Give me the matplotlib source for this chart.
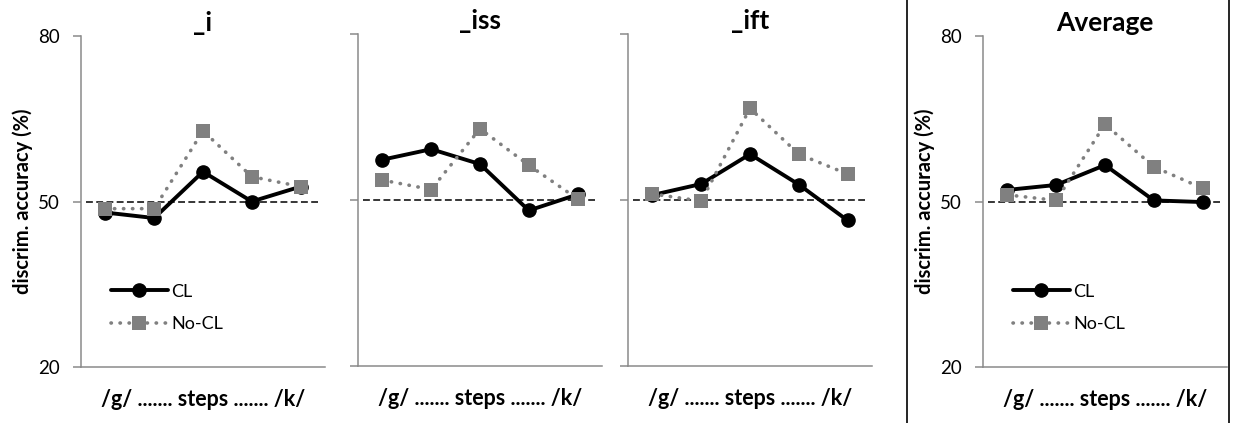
import matplotlib
matplotlib.use("Agg")
import matplotlib.pyplot as plt
from matplotlib.lines import Line2D

plt.rcParams['font.family'] = ['Lato', 'DejaVu Sans']

titles = ["_i", "_iss", "_ift", "Average"]
steps = [1, 2, 3, 4, 5]
cl = [
    [48.0, 47.0, 55.4, 50.0, 52.7],
    [57.3, 59.2, 56.5, 48.1, 51.0],
    [50.9, 52.9, 58.3, 52.8, 46.3],
    [52.1, 53.0, 56.6, 50.2, 49.9],
]
nocl = [
    [48.7, 48.7, 62.8, 54.5, 52.7],
    [53.6, 51.9, 62.9, 56.3, 50.2],
    [51.1, 49.8, 66.6, 58.3, 54.7],
    [51.2, 50.2, 64.0, 56.3, 52.4],
]
yticks = [20, 50, 80]
xlabel = "/g/ ....... steps ....... /k/"
ylabel = "discrim. accuracy (%)"
chance = 50

W, H = 1233, 423
fig = plt.figure(figsize=(W / 100, H / 100), dpi=100)

lefts = [81, 358, 628, 983]
tops = [36, 34.3, 34.3, 36]
bots = [367, 365.7, 365.7, 367]
aw = 244
gray = '#808080'
axis_gray = '#8a8a8a'
for i in range(4):
    ax = fig.add_axes([lefts[i] / W, 1 - bots[i] / H, aw / W, (bots[i] - tops[i]) / H])
    ax.hlines(chance, 0.6, 5.35, colors='black', linestyles=(0, (4.5, 2.2)), linewidth=1.1, zorder=1)
    ax.plot(steps, cl[i], color='black', lw=2.8, marker='o', markersize=9.5,
            label='CL', zorder=3, solid_capstyle='round')
    ax.plot(steps, nocl[i], color=gray, lw=2.6, linestyle=(0, (0.1, 2.4)),
            dash_capstyle='round', marker='s', markersize=10, markeredgewidth=0,
            label='No-CL', zorder=4)
    ax.set_xlim(0.5, 5.5)
    ax.set_ylim(20, 80)
    ax.set_yticks(yticks)
    ax.set_xticks([])
    for s in ['top', 'right']:
        ax.spines[s].set_visible(False)
    for s in ['left', 'bottom']:
        ax.spines[s].set_color(axis_gray)
        ax.spines[s].set_linewidth(1.1)
    ax.tick_params(axis='y', direction='out', length=6, width=1.1, color=axis_gray,
                   labelsize=13.5, pad=9)
    ax.set_title(titles[i], fontsize=19, fontweight='bold', pad=3.5)
    ax.set_xlabel(xlabel, fontsize=15.5, fontweight='bold', labelpad=16)
    if i in (0, 3):
        ax.set_ylabel(ylabel, fontsize=14.5, fontweight='bold', labelpad=3.5)
        ax.legend(loc='lower left', bbox_to_anchor=(0.123, 0.106), frameon=False,
                  fontsize=13, handlelength=3.15, handletextpad=0.17, labelspacing=0.9,
                  borderaxespad=0, borderpad=0)
    else:
        ax.set_yticklabels([])

# frame around the Average panel
fig.add_artist(Line2D([907 / W, 907 / W], [0, 1], color='black', lw=1.2))
fig.add_artist(Line2D([1228.5 / W, 1228.5 / W], [0, 1], color='black', lw=1.2))

fig.savefig('out.png', dpi=100)
